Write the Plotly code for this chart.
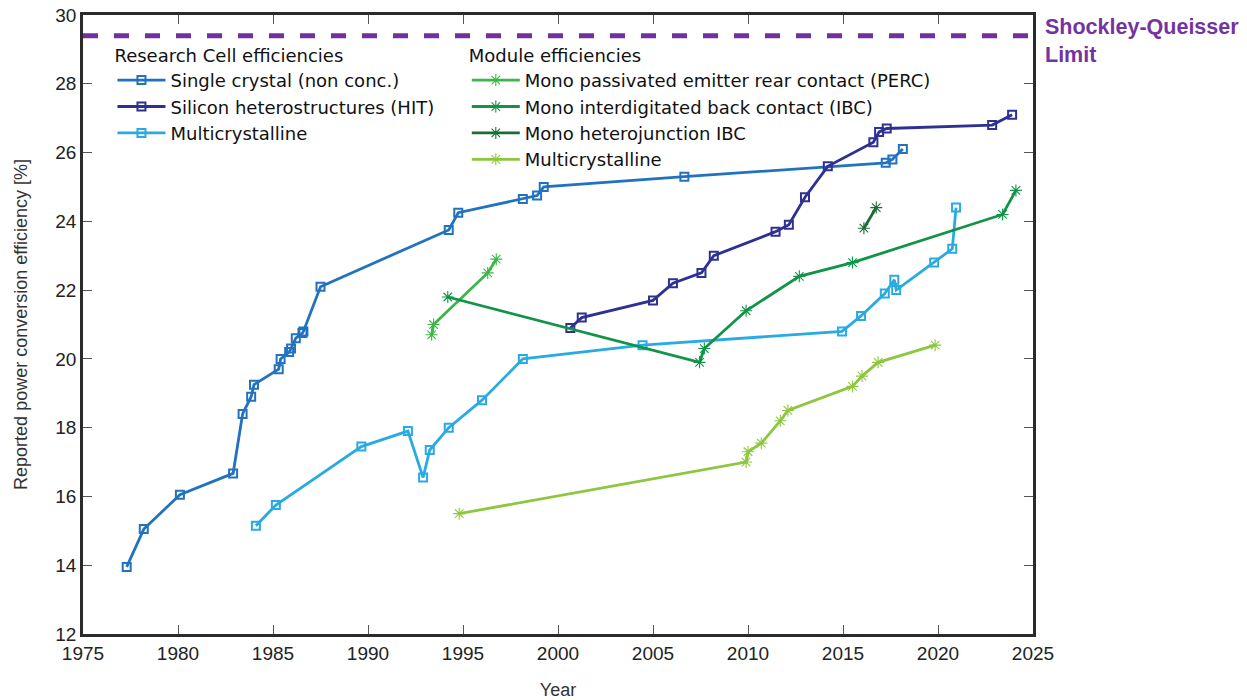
import plotly.graph_objects as go

# Research cell efficiencies
sc_year = [1977.3, 1978.2, 1980.1, 1982.9, 1983.4, 1983.85, 1984.0, 1985.3, 1985.4, 1985.85,
           1985.95, 1986.2, 1986.55, 1986.6, 1987.5, 1994.25, 1994.75, 1998.15, 1998.9, 1999.25,
           2006.65, 2017.25, 2017.6, 2018.15]
sc_eff = [13.95, 15.05, 16.05, 16.67, 18.4, 18.9, 19.25, 19.7, 20.0, 20.2,
          20.3, 20.6, 20.75, 20.8, 22.1, 23.75, 24.25, 24.65, 24.75, 25.0,
          25.3, 25.7, 25.8, 26.1]

hit_year = [2000.65, 2001.25, 2005.0, 2006.05, 2007.55, 2008.2, 2011.45, 2012.15, 2013.0,
            2014.2, 2016.6, 2016.9, 2017.3, 2022.85, 2023.9]
hit_eff = [20.9, 21.2, 21.7, 22.2, 22.5, 23.0, 23.7, 23.9, 24.7,
           25.6, 26.3, 26.6, 26.7, 26.8, 27.1]

mc_year = [1984.1, 1985.15, 1989.65, 1992.1, 1992.9, 1993.25, 1994.25, 1996.0, 1998.15,
           2004.45, 2014.95, 2015.95, 2017.2, 2017.7, 2017.8, 2019.8, 2020.75, 2020.95]
mc_eff = [15.15, 15.75, 17.45, 17.9, 16.55, 17.35, 18.0, 18.8, 20.0,
          20.4, 20.8, 21.25, 21.9, 22.3, 22.0, 22.8, 23.2, 24.4]

# Module efficiencies
perc_year = [1993.35, 1993.45, 1996.3, 1996.75]
perc_eff = [20.7, 21.0, 22.5, 22.9]

ibc_year = [1994.2, 2007.45, 2007.7, 2009.9, 2012.7, 2015.5, 2023.4, 2024.1]
ibc_eff = [21.8, 19.9, 20.3, 21.4, 22.4, 22.8, 24.2, 24.9]

hjibc_year = [2016.1, 2016.75]
hjibc_eff = [23.8, 24.4]

mcm_year = [1994.8, 2009.9, 2010.0, 2010.7, 2011.7, 2012.1, 2015.5, 2016.0, 2016.85, 2019.85]
mcm_eff = [15.5, 17.0, 17.3, 17.55, 18.2, 18.5, 19.2, 19.5, 19.9, 20.4]

sq_limit = 29.4

FONT = "Liberation Sans, Arial, sans-serif"
LEG_FONT = "DejaVu Sans, Liberation Sans, sans-serif"
fig = go.Figure()


def cell(x, y, name, color):
    fig.add_trace(go.Scatter(
        x=x, y=y, name=name, mode="lines+markers", legend="legend",
        line=dict(color=color, width=2.8),
        marker=dict(symbol="square-open", size=8, color=color, line=dict(width=2, color=color)),
    ))


def module(x, y, name, color):
    fig.add_trace(go.Scatter(
        x=x, y=y, name=name, mode="lines+markers", legend="legend2",
        line=dict(color=color, width=2.8),
        marker=dict(symbol="asterisk-open", size=10, color=color, line=dict(width=1.1, color=color)),
    ))


cell(sc_year, sc_eff, "Single crystal (non conc.)", "#2272BD")
cell(hit_year, hit_eff, "Silicon heterostructures (HIT)", "#2E3192")
cell(mc_year, mc_eff, "Multicrystalline", "#29ABE2")

module(perc_year, perc_eff, "Mono passivated emitter rear contact (PERC)", "#3DB54A")
module(ibc_year, ibc_eff, "Mono interdigitated back contact (IBC)", "#109447")
module(hjibc_year, hjibc_eff, "Mono heterojunction IBC", "#1B6B37")
module(mcm_year, mcm_eff, "Multicrystalline", "#8DC63F")

# Shockley-Queisser limit
fig.add_shape(type="line", xref="paper", yref="y", x0=0, x1=1, y0=sq_limit, y1=sq_limit,
              line=dict(color="#7030A0", width=5, dash="15px,16px"))
fig.add_annotation(text="<b>Shockley-Queisser<br>Limit</b>", xref="paper", yref="paper",
                   x=1.011, y=1.003, xanchor="left", yanchor="top", align="left",
                   showarrow=False, font=dict(family=FONT, size=21.5, color="#7433A2"))

axis_common = dict(showline=True, linewidth=2.5, linecolor="#2B2B2B", mirror="ticks",
                   ticks="inside", ticklen=9, tickwidth=1, tickcolor="#555555",
                   showgrid=False, zeroline=False, automargin=False,
                   tickfont=dict(family=FONT, size=19, color="#222222"))

fig.update_layout(
    width=1247, height=700,
    margin=dict(l=83, r=214, t=15, b=66),
    plot_bgcolor="white", paper_bgcolor="white",
    font=dict(family=FONT, color="#222222"),
    xaxis=dict(range=[1975, 2025], dtick=5, tick0=1975,
               title=dict(text="Year", font=dict(family=FONT, size=18, color="#333333"), standoff=24),
               **axis_common),
    yaxis=dict(range=[12, 30], dtick=2, tick0=12,
               title=dict(text="Reported power conversion efficiency [%]",
                          font=dict(family=FONT, size=18, color="#333333"), standoff=24),
               **axis_common),
    legend=dict(x=0.031, y=0.962, xanchor="left", yanchor="top", bgcolor="rgba(0,0,0,0)",
                title=dict(text="Research Cell efficiencies", font=dict(family=LEG_FONT, size=18, color="#111111")),
                font=dict(family=LEG_FONT, size=18, color="#111111"),
                itemwidth=48, tracegroupgap=0),
    legend2=dict(x=0.404, y=0.962, xanchor="left", yanchor="top", bgcolor="rgba(0,0,0,0)",
                 title=dict(text="Module efficiencies", font=dict(family=LEG_FONT, size=18, color="#111111")),
                 font=dict(family=LEG_FONT, size=18, color="#111111"),
                 itemwidth=48, tracegroupgap=0),
)

fig.write_html("out.html")
